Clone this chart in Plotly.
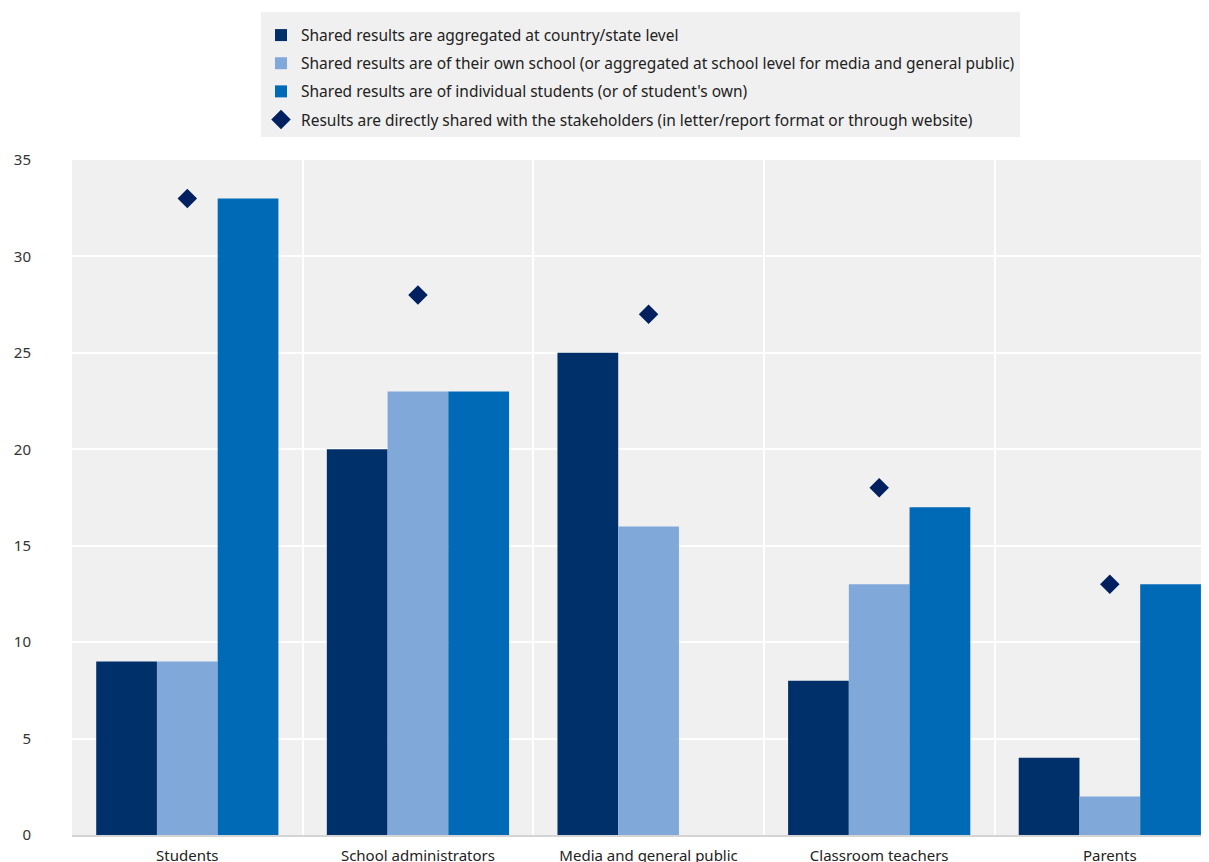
import plotly.graph_objects as go

categories = ["Students", "School administrators", "Media and general public", "Classroom teachers", "Parents"]
country_level = [9, 20, 25, 8, 4]
own_school = [9, 23, 16, 13, 2]
individual = [33, 23, None, 17, 13]
direct_shared = [33, 28, 27, 18, 13]

names = [
    "Shared results are aggregated at country/state level",
    "Shared results are of their own school (or aggregated at school level for media and general public)",
    "Shared results are of individual students (or of student's own)",
    "Results are directly shared with the stakeholders (in letter/report format or through website)",
]
colors = ["#00306A", "#80A9DA", "#006AB7", "#002060"]

fig = go.Figure()
for i, vals in enumerate([country_level, own_school, individual]):
    fig.add_trace(go.Bar(x=categories, y=vals, name=names[i], marker_color=colors[i],
                         marker_line_width=0, legendgroup=f"g{i}"))
fig.add_trace(go.Scatter(x=categories, y=direct_shared, name=names[3], mode="markers",
                         marker=dict(symbol="diamond", size=15, color=colors[3]),
                         legendgroup="g3"))

W, H = 1201, 854
fig.update_layout(
    width=W, height=H,
    margin=dict(l=64, r=0, t=152, b=27),
    paper_bgcolor="white", plot_bgcolor="#F0F0F0",
    barmode="group", bargap=0.21, bargroupgap=0,
    font=dict(family="Noto Sans", size=15, color="#333333"),
    showlegend=True,
    legend=dict(
        orientation="v", x=0.5, xanchor="center", yref="container", y=1 - 4 / H, yanchor="top",
        bgcolor="#F0F0F0", font=dict(size=15.5, color="#222222"),
        traceorder="grouped", tracegroupgap=5,
        title=dict(text=" ", font=dict(size=5)),
    ),
    xaxis=dict(
        range=[-0.5, 4.43], tickson="boundaries", showgrid=True, gridcolor="white", gridwidth=2,
        showline=True, linecolor="#D4D4D4", linewidth=2, ticks="", automargin=False,
        ticklabelstandoff=6, tickfont=dict(size=15, color="#222222"),
    ),
    yaxis=dict(
        range=[0, 35], dtick=5, showgrid=True, gridcolor="white", gridwidth=1.5,
        zeroline=False, ticks="", ticklabelstandoff=40, automargin=False,
        tickfont=dict(size=15, color="#333333"),
    ),
)

fig.write_html("out.html")
